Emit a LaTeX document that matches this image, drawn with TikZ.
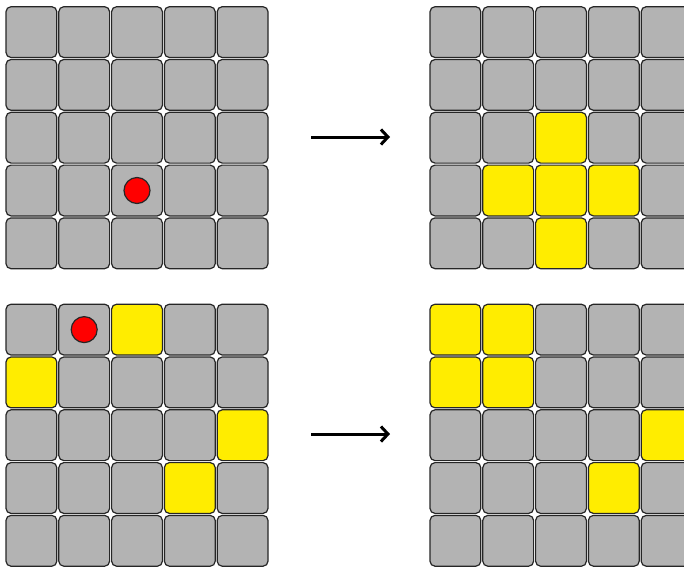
\documentclass[tikz,border=0pt]{standalone}
\usepackage{tikz}
\usepackage{color}
\usetikzlibrary{arrows.meta}
\definecolor{tilegray}{RGB}{179,179,179}
\definecolor{tileyellow}{RGB}{255,237,0}
\tikzset{lit/.style={fill=tileyellow},
	b22/.style=lit, b31/.style=lit, b32/.style=lit, b33/.style=lit, b42/.style=lit,
	c02/.style=lit, c10/.style=lit, c24/.style=lit, c33/.style=lit,
	d00/.style=lit, d01/.style=lit, d10/.style=lit, d11/.style=lit, d24/.style=lit, d33/.style=lit}

\begin{document}
\begin{tikzpicture}[x=1pt,y=-1pt,tile/.style={rectangle,rounded corners=5,draw=black!85,line width=1.2,fill=tilegray,minimum size=50.8,inner sep=0},
	token/.style={circle,draw=black!85,line width=1.2,fill=red,minimum size=26,inner sep=0},
	move/.style={-{Straight Barb[length=7,width=15]},line width=3}]
	\clip (0,0) rectangle (684,568);
	\foreach \g/\x/\y in {a/31.4/32.1,b/455.4/32.1,c/31.4/329.6,d/455.4/329.6}
		\foreach \r in {0,...,4}
			\foreach \c in {0,...,4}
				\node[tile,\g\r\c/.try] (\g\r\c) at ({\x+52.8*\c},{\y+52.8*\r}) {};
	\node[token] (ta) at (a32) {};
	\node[token] (tc) at (c01) {};
	\coordinate (s1) at (311,137);
	\coordinate (e1) at (390,137);
	\coordinate (s2) at (311,434);
	\coordinate (e2) at (390,434);
	\draw [move] (s1) -- (e1);
	\draw [move] (s2) -- (e2);
\end{tikzpicture}
\end{document}
